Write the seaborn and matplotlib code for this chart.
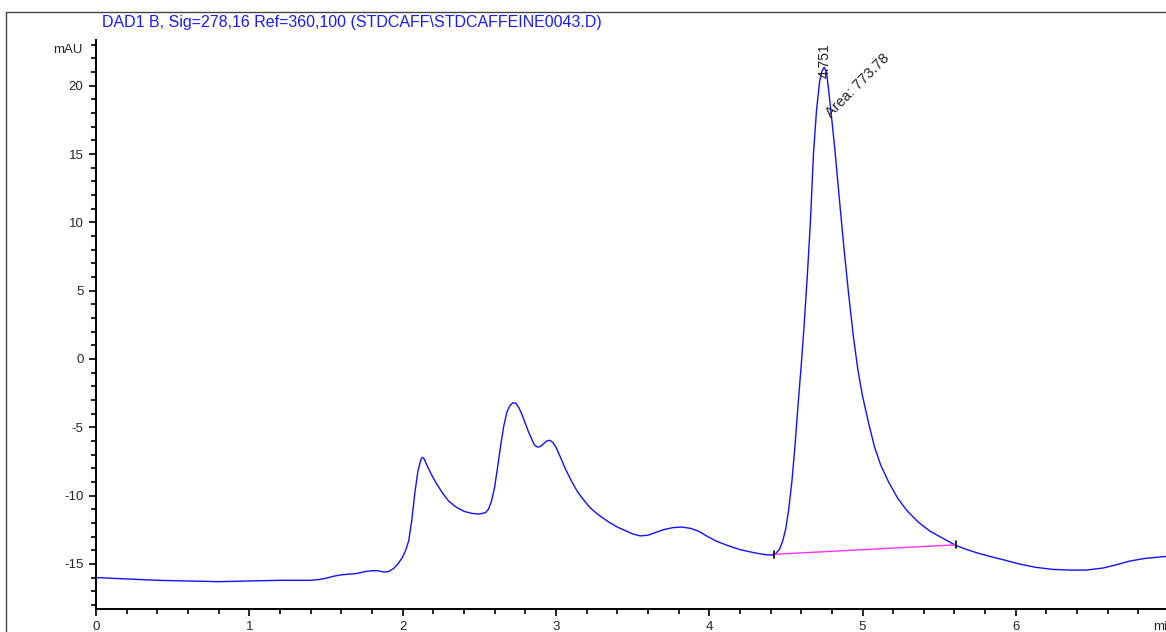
import numpy as np
import pandas as pd
import seaborn as sns
import matplotlib
matplotlib.use("Agg")
import matplotlib.pyplot as plt
from matplotlib.lines import Line2D
from matplotlib.ticker import MultipleLocator

# chromatogram (time in min, signal in mAU)
time = [0.00, 0.20, 0.40, 0.60, 0.80, 1.00, 1.20, 1.40, 1.45, 1.50, 1.55, 1.60,
        1.70, 1.76, 1.80, 1.84, 1.88, 1.91, 1.94, 1.97, 2.00, 2.02, 2.04, 2.06,
        2.08, 2.10, 2.12, 2.13, 2.14, 2.16, 2.19, 2.22, 2.26, 2.30, 2.35, 2.40,
        2.45, 2.50, 2.54, 2.56, 2.58, 2.60, 2.62, 2.64, 2.66, 2.68, 2.70, 2.72,
        2.74, 2.76, 2.78, 2.80, 2.82, 2.84, 2.86, 2.88, 2.90, 2.92, 2.94, 2.96,
        2.98, 3.00, 3.03, 3.06, 3.10, 3.14, 3.18, 3.22, 3.27, 3.34, 3.40, 3.45,
        3.50, 3.55, 3.60, 3.65, 3.70, 3.76, 3.82, 3.88, 3.93, 3.99, 4.05, 4.12,
        4.20, 4.28, 4.35, 4.40, 4.43, 4.46, 4.48, 4.50, 4.52, 4.54, 4.56, 4.58,
        4.60, 4.62, 4.64, 4.66, 4.68, 4.70, 4.72, 4.735, 4.75, 4.765, 4.78, 4.80,
        4.82, 4.85, 4.88, 4.91, 4.94, 4.97, 5.00, 5.04, 5.08, 5.12, 5.17, 5.23,
        5.29, 5.36, 5.44, 5.52, 5.61, 5.68, 5.75, 5.83, 5.92, 6.02, 6.13, 6.24,
        6.35, 6.46, 6.57, 6.66, 6.74, 6.84, 6.98]
signal = [-16.0, -16.1, -16.2, -16.25, -16.3, -16.25, -16.2, -16.2, -16.15, -16.05, -15.9, -15.8,
          -15.7, -15.55, -15.5, -15.5, -15.6, -15.55, -15.35, -15.0, -14.5, -14.0, -13.3, -11.8,
          -9.8, -8.2, -7.35, -7.2, -7.3, -7.8, -8.5, -9.1, -9.8, -10.4, -10.85, -11.15,
          -11.3, -11.35, -11.25, -11.0, -10.4, -9.4, -7.9, -6.3, -4.9, -3.9, -3.4, -3.2,
          -3.25, -3.6, -4.1, -4.7, -5.3, -5.8, -6.3, -6.45, -6.4, -6.2, -6.0, -5.95,
          -6.1, -6.45, -7.2, -8.0, -8.9, -9.7, -10.3, -10.85, -11.35, -11.9, -12.3, -12.55,
          -12.8, -12.95, -12.9, -12.7, -12.5, -12.35, -12.3, -12.4, -12.6, -13.0, -13.35, -13.65,
          -13.95, -14.15, -14.3, -14.35, -14.3, -13.9, -13.3, -12.4, -10.9, -8.9, -6.3, -3.3,
          -0.5, 2.6, 6.1, 10.0, 15.0, 18.2, 20.3, 21.05, 21.35, 21.0, 19.6, 17.5,
          15.3, 11.6, 8.0, 4.7, 1.7, -0.8, -2.7, -4.7, -6.5, -7.8, -9.0, -10.2,
          -11.1, -11.9, -12.6, -13.1, -13.65, -13.95, -14.2, -14.45, -14.7, -15.0, -15.25, -15.4,
          -15.45, -15.45, -15.3, -15.05, -14.8, -14.6, -14.45]

# integration baseline of the caffeine peak
base_time = [4.42, 5.61]
base_signal = [-14.3, -13.6]

peak_rt = "4.751"
peak_area = "Area: 773.78"
title = "DAD1 B, Sig=278,16 Ref=360,100 (STDCAFF\\STDCAFFEINE0043.D)"

df = pd.DataFrame({"time": time, "signal": signal})
base = pd.DataFrame({"time": base_time, "signal": base_signal})

sns.set_style("white")
plt.rcParams["font.family"] = ["Liberation Sans", "DejaVu Sans"]
plt.rcParams["axes.unicode_minus"] = False

W, H = 1166, 632
fig = plt.figure(figsize=(W / 100, H / 100), dpi=100)
ax = fig.add_axes([96 / W, 23 / H, (W - 96) / W, (609 - 40) / H])

sns.lineplot(data=df, x="time", y="signal", ax=ax, color="#1010ff", linewidth=1.0)
sns.lineplot(data=base, x="time", y="signal", ax=ax, color="#ff30ff", linewidth=1.0)

# little black marks at baseline ends
for t, s in zip(base_time, base_signal):
    ax.plot([t, t], [s - 0.25, s + 0.25], color="black", lw=1.2)

ax.set_xlim(0, (W - 96) / 153.3)
ax.set_ylim(-18.3, 23.35)
ax.set_xlabel("")
ax.set_ylabel("")

for side in ["top", "right"]:
    ax.spines[side].set_visible(False)
for side in ["left", "bottom"]:
    ax.spines[side].set_color("black")
    ax.spines[side].set_linewidth(1.4)

ax.xaxis.set_major_locator(MultipleLocator(1))
ax.xaxis.set_minor_locator(MultipleLocator(0.2))
ax.yaxis.set_major_locator(MultipleLocator(5))
ax.yaxis.set_minor_locator(MultipleLocator(1))
ax.tick_params(which="major", direction="out", length=5, width=1.2, labelsize=9.5, color="black")
ax.tick_params(which="minor", direction="out", length=3.5, width=1.2, color="black")
ax.tick_params(axis="x", which="both", bottom=True, pad=4)
ax.tick_params(axis="y", which="both", left=True, pad=4)
ax.set_yticks([-15, -10, -5, 0, 5, 10, 15, 20])

ax.annotate("mAU", xy=(0, 22.6), xytext=(-10, 0), textcoords="offset points",
            ha="right", va="center", fontsize=9.5, annotation_clip=False)
# axis unit, cut by the right edge just like in the original report
ax.annotate("min", xy=(6.895, -18.3), xytext=(0, -9), textcoords="offset points",
            ha="left", va="top", fontsize=9.5, annotation_clip=False)

ax.text(4.75, 20.6, peak_rt, rotation=90, ha="center", va="bottom", fontsize=10, color="#222222")
ax.text(4.81, 17.5, peak_area, rotation=45, rotation_mode="anchor", ha="left", va="bottom",
        fontsize=10.5, color="#222222")

fig.text(102 / W, 1 - 22 / H, title, color="#1a1aff", fontsize=11.5, ha="left", va="center")

# outer frame of the report
fig.add_artist(Line2D([6 / W, 6 / W], [0, 1 - 12 / H], color="#444444", lw=1.0))
fig.add_artist(Line2D([6 / W, 1], [1 - 12 / H, 1 - 12 / H], color="#444444", lw=1.0))

fig.savefig("out.png", dpi=100)
